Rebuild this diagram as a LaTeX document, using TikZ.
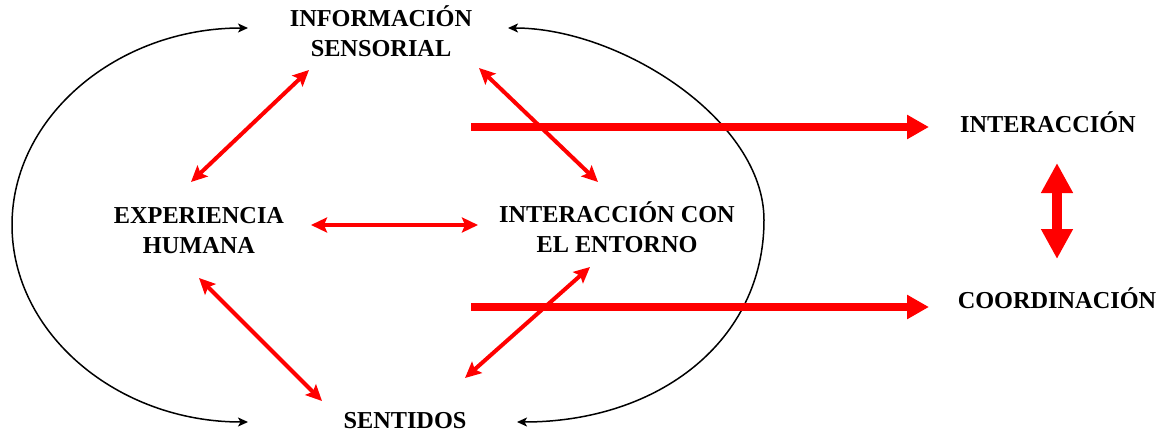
\documentclass[tikz,border=0pt]{standalone}
\usepackage{fontspec}
\setmainfont{Liberation Serif}
\usetikzlibrary{arrows.meta}
\begin{document}
\begin{tikzpicture}[x=1pt,y=-1pt,
  lbl/.style={font=\bfseries\fontsize{24.3}{29.5}\selectfont, align=center, anchor=base, inner sep=0pt},
  redarr/.style={draw=red, line width=4pt, {Stealth[length=16pt,width=15pt,inset=3pt]}-{Stealth[length=16pt,width=15pt,inset=3pt]}},
  thickarr/.style={draw=red, line width=8pt, -{Triangle[length=22pt,width=23pt]}},
  vertarr/.style={draw=red, line width=10pt, {Triangle[length=30pt,width=30pt]}-{Triangle[length=30pt,width=30pt]}},
  blkarc/.style={draw=black, line width=1.5pt, {Stealth[length=10pt,width=9pt,inset=2.5pt]}-{Stealth[length=10pt,width=9pt,inset=2.5pt]}}]
\useasboundingbox (0,0) rectangle (1160,431);

% labels (base = baseline of last line)
\node[lbl] (is) at (381,56) {INFORMACIÓN\\SENSORIAL};
\node[lbl] (eh) at (199,253) {EXPERIENCIA\\HUMANA};
\node[lbl] (ie) at (617,252) {INTERACCIÓN CON\\EL ENTORNO};
\node[lbl] (se) at (405,428) {SENTIDOS};
\node[lbl] (in) at (1048,132) {INTERACCIÓN};
\node[lbl] (co) at (1057,308) {COORDINACIÓN};

% connector end points
\coordinate (isA) at (309,70);
\coordinate (ehA) at (191,182);
\coordinate (ehB) at (311,225);
\coordinate (ieB) at (478,225);
\coordinate (ehC) at (199,278);
\coordinate (seC) at (322,401);
\coordinate (isD) at (479,68);
\coordinate (ieD) at (598,182);
\coordinate (ieE) at (590,267);
\coordinate (seE) at (465,378);
\coordinate (t1s) at (471,127);
\coordinate (t1e) at (929,127);
\coordinate (t2s) at (471,307);
\coordinate (t2e) at (929,307);
\coordinate (vin) at (1057,163);
\coordinate (vco) at (1057,259);
\coordinate (la) at (248,28);
\coordinate (ra) at (508,28);
\coordinate (rm) at (764,220);
\coordinate (rb) at (517,422);

% black arcs
\draw[blkarc] (la) arc[start angle=-90, end angle=-270, x radius=236, y radius=197];
\draw[blkarc] (ra) .. controls (620,28) and (764,120) .. (rm)
                   .. controls (764,340) and (660,422) .. (rb);

% red double arrows
\draw[redarr] (isA) -- (ehA);
\draw[redarr] (ehB) -- (ieB);
\draw[redarr] (ehC) -- (seC);
\draw[redarr] (isD) -- (ieD);
\draw[redarr] (ieE) -- (seE);

% thick arrows
\draw[thickarr] (t1s) -- (t1e);
\draw[thickarr] (t2s) -- (t2e);
\draw[vertarr] (vin) -- (vco);
\end{tikzpicture}
\end{document}
